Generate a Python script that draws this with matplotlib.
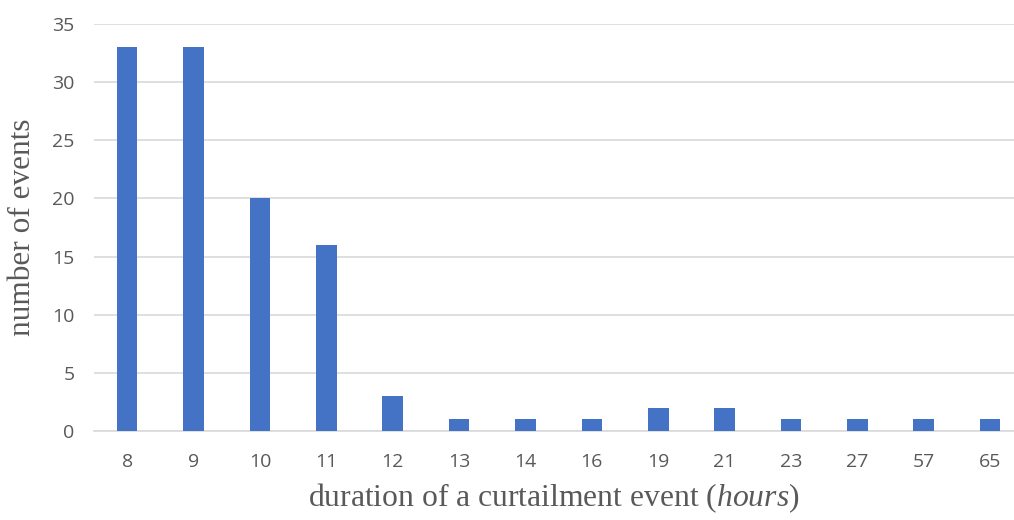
import numpy as np
import matplotlib
matplotlib.use("Agg")
import matplotlib.pyplot as plt

plt.rcParams["mathtext.fontset"] = "custom"
plt.rcParams["mathtext.rm"] = "Liberation Serif"
plt.rcParams["mathtext.it"] = "Liberation Serif:italic"

# duration of curtailment events (hours) and how many times each happened
durations = ["8", "9", "10", "11", "12", "13", "14", "16", "19", "21", "23", "27", "57", "65"]
counts = [33, 33, 20, 16, 3, 1, 1, 1, 2, 2, 1, 1, 1, 1]

fig = plt.figure(figsize=(10.14, 5.20), dpi=100)
ax = fig.add_axes([94 / 1014, 1 - 431 / 520, 1 - 94 / 1014, (431 - 24) / 520])

x = np.arange(len(durations))
ax.bar(x, counts, width=0.31, color="#4472C4", zorder=3)

ax.set_ylim(0, 35)
ax.set_yticks(np.arange(0, 36, 5))
ax.set_xlim(-0.5, 13.36)
ax.set_xticks(x)
ax.set_xticklabels(durations)
ax.grid(axis="y", color="#D9D9D9", linewidth=1.2, zorder=0)

for s in ["top", "right", "left"]:
    ax.spines[s].set_visible(False)
ax.spines["bottom"].set_color("#D9D9D9")
ax.spines["bottom"].set_linewidth(1.2)

ax.tick_params(axis="both", length=0, labelsize=14, labelcolor="#595959")
ax.tick_params(axis="x", pad=16)
ax.tick_params(axis="y", pad=14)
for lab in ax.get_xticklabels() + ax.get_yticklabels():
    lab.set_fontfamily("Open Sans")

ax.set_xlabel("duration of a curtailment event ($\\it{hours}$)", fontsize=22.8,
              family="Liberation Serif", color="#595959", labelpad=7)
ax.set_ylabel("number of events", fontsize=22.5, family="Liberation Serif",
              color="#595959", labelpad=11)

fig.savefig("out.png", dpi=100)
